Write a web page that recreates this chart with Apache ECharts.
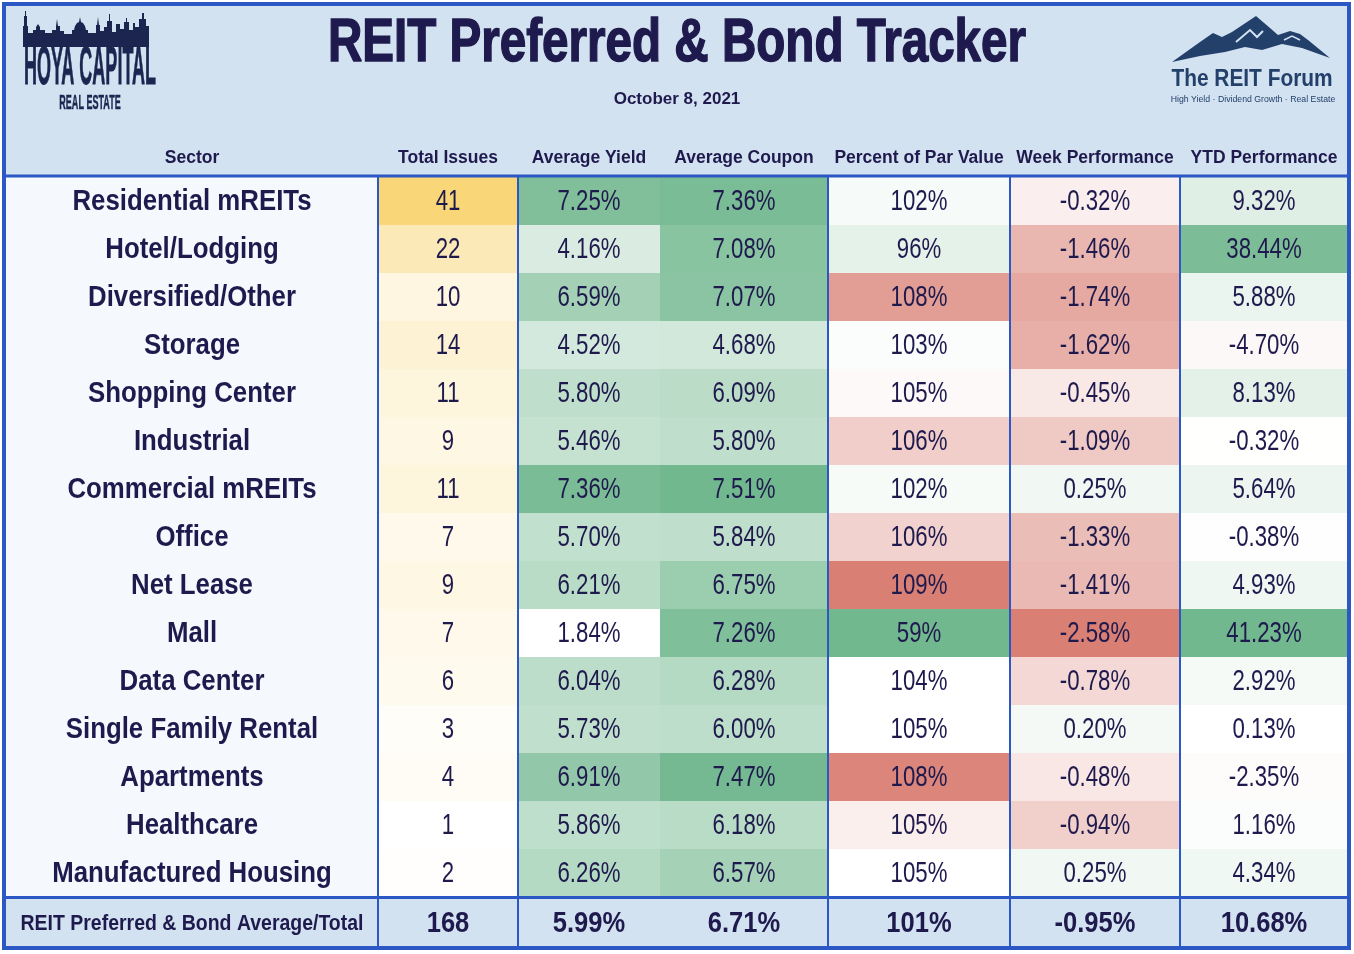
<!DOCTYPE html>
<html>
<head>
<meta charset="utf-8">
<title>REIT Preferred & Bond Tracker</title>
<script src="https://cdn.jsdelivr.net/npm/echarts@6/dist/echarts.min.js"></script>
<style>
  html, body { margin: 0; padding: 0; background: #ffffff; }
  #main { width: 1354px; height: 954px; }
</style>
</head>
<body>
<div id="main"></div>
<script>
const sectors = ['Residential mREITs', 'Hotel/Lodging', 'Diversified/Other', 'Storage', 'Shopping Center',
  'Industrial', 'Commercial mREITs', 'Office', 'Net Lease', 'Mall', 'Data Center',
  'Single Family Rental', 'Apartments', 'Healthcare', 'Manufactured Housing'];
const totalIssues = [41, 22, 10, 14, 11, 9, 11, 7, 9, 7, 6, 3, 4, 1, 2];
const avgYield = [7.25, 4.16, 6.59, 4.52, 5.80, 5.46, 7.36, 5.70, 6.21, 1.84, 6.04, 5.73, 6.91, 5.86, 6.26];
const avgCoupon = [7.36, 7.08, 7.07, 4.68, 6.09, 5.80, 7.51, 5.84, 6.75, 7.26, 6.28, 6.00, 7.47, 6.18, 6.57];
// shown rounded to whole percent; decimals estimated from the cell shading
const pctPar = [101.7, 96.2, 107.6, 103.4, 104.8, 106.1, 101.8, 106.0, 108.55, 59.4, 104.3, 104.6, 108.35, 105.1, 104.5];
const weekPerf = [-0.32, -1.46, -1.74, -1.62, -0.45, -1.09, 0.25, -1.33, -1.41, -2.58, -0.78, 0.20, -0.48, -0.94, 0.25];
const ytdPerf = [9.32, 38.44, 5.88, -4.70, 8.13, -0.32, 5.64, -0.38, 4.93, 41.23, 2.92, 0.13, -2.35, 1.16, 4.34];

const columnNames = ['Sector', 'Total Issues', 'Average Yield', 'Average Coupon',
  'Percent of Par Value', 'Week Performance', 'YTD Performance'];
const footerLabel = 'REIT Preferred & Bond Average/Total';
const footerValues = [168, 5.99, 6.71, 101, -0.95, 10.68];

// ---- colours ----
const NAVY = '#1f1a4d';
const BLUE = '#2b58c4';
const HEAD_BG = '#d3e2f1';
const SECTOR_BG = '#f5f9fd';
const WHITE = '#ffffff';
const GREEN = '#72b88f';
const RED = '#d97f74';
const YELLOW = '#f9d677';
const SANS = '"Liberation Sans", Arial, sans-serif';

function median(arr) {
  const s = arr.slice().sort((a, b) => a - b);
  const n = s.length;
  return n % 2 ? s[(n - 1) / 2] : (s[n / 2 - 1] + s[n / 2]) / 2;
}

// piecewise linear colour scale, like a spreadsheet colour scale
function colorScale(stops) {
  return function (v) {
    if (v <= stops[0][0]) return stops[0][1];
    for (let i = 1; i < stops.length; i++) {
      if (v <= stops[i][0]) {
        const t = (v - stops[i - 1][0]) / (stops[i][0] - stops[i - 1][0]);
        return echarts.color.lerp(t, [stops[i - 1][1], stops[i][1]]);
      }
    }
    return stops[stops.length - 1][1];
  };
}

const yc = avgYield.concat(avgCoupon);
const ycScale = colorScale([[Math.min(...yc), WHITE], [median(yc), echarts.color.lerp(0.5, [WHITE, GREEN])], [Math.max(...yc), GREEN]]);
const totalScale = colorScale([[Math.min(...totalIssues), WHITE], [Math.max(...totalIssues), YELLOW]]);
const parScale = colorScale([[Math.min(...pctPar), GREEN], [median(pctPar), WHITE], [Math.max(...pctPar), RED]]);
const weekExt = Math.max(...weekPerf.map(Math.abs));
const weekScale = colorScale([[-weekExt, RED], [0, WHITE], [weekExt, GREEN]]);
const ytdScale = colorScale([[Math.min(...ytdPerf), '#fcf8f7'], [0, WHITE], [Math.max(...ytdPerf), GREEN]]);

const pct2 = v => v.toFixed(2) + '%';
const VALUE_FONT = '30px ' + SANS, VALUE_SX = 0.74;
const columns = [
  { values: sectors.map((s, i) => i), color: () => SECTOR_BG, fmt: i => sectors[i], font: 'bold 29px ' + SANS, sx: 0.89 },
  { values: totalIssues, color: totalScale, fmt: v => String(v) },
  { values: avgYield, color: ycScale, fmt: pct2 },
  { values: avgCoupon, color: ycScale, fmt: pct2 },
  { values: pctPar, color: parScale, fmt: v => Math.round(v) + '%' },
  { values: weekPerf, color: weekScale, fmt: pct2 },
  { values: ytdPerf, color: ytdScale, fmt: pct2 }
];
const footerFmt = [v => footerLabel, v => String(v), pct2, pct2, v => v + '%', pct2, pct2];

// ---- layout ----
const xs = [6, 378, 518, 660, 828, 1010, 1180, 1348];
const bodyTop = 177, bodyH = 720, footTop = 898, footH = 49;

// one table cell: a band-sized rect plus horizontally condensed text
function cellRenderer(colorFn, fmt, font, sx) {
  return function (params, api) {
    const c = api.coord([api.value(0), api.value(1)]);
    const s = api.size([1, 1]);
    const v = api.value(2);
    return {
      type: 'group',
      children: [
        { type: 'rect', shape: { x: c[0] - s[0] / 2, y: c[1] - s[1] / 2, width: s[0], height: s[1] },
          style: { fill: colorFn(v) } },
        { type: 'text', x: c[0], y: c[1] + 1, scaleX: sx,
          style: { text: fmt(v), font: font, fill: NAVY, align: 'center', verticalAlign: 'middle',
            textAlign: 'center', textVerticalAlign: 'middle' } }
      ]
    };
  };
}

const grid = [], xAxis = [], yAxis = [], series = [];
columns.forEach((col, i) => {
  const left = xs[i], width = xs[i + 1] - xs[i];
  // body
  grid.push({ left: left, top: bodyTop, width: width, height: bodyH });
  xAxis.push({
    gridIndex: 2 * i, type: 'category', data: [columnNames[i]], position: 'top', z: 10,
    axisLine: { show: false }, axisTick: { show: false },
    axisLabel: { color: NAVY, fontWeight: 'bold', fontSize: 17.5, fontFamily: SANS, margin: 10 }
  });
  yAxis.push({ gridIndex: 2 * i, type: 'category', data: sectors, inverse: true, show: false });
  series.push({
    type: 'custom', xAxisIndex: 2 * i, yAxisIndex: 2 * i,
    data: col.values.map((v, r) => [0, r, v]),
    renderItem: cellRenderer(col.color, col.fmt, col.font || VALUE_FONT, col.sx || VALUE_SX),
    silent: true
  });
  // footer
  grid.push({ left: left, top: footTop, width: width, height: footH });
  xAxis.push({ gridIndex: 2 * i + 1, type: 'category', data: [''], show: false });
  yAxis.push({ gridIndex: 2 * i + 1, type: 'category', data: ['total'], show: false });
  series.push({
    type: 'custom', xAxisIndex: 2 * i + 1, yAxisIndex: 2 * i + 1,
    data: [[0, 0, i === 0 ? 0 : footerValues[i - 1]]],
    renderItem: cellRenderer(() => HEAD_BG, footerFmt[i], i === 0 ? 'bold 22px ' + SANS : 'bold 29px ' + SANS,
      i === 0 ? 0.885 : 0.88),
    silent: true
  });
});

// ---- decorations: header band, logos, rules ----
const skyline = [[23,47],[23,26],[24,26],[24,16],[25,16],[25,11],[26,11],[26,16],[27,16],[27,26],[28,26],[28,33],
  [33,33],[33,30],[36,30],[36,27],[38,24],[40,27],[40,30],[45,30],[45,33],[52,33],[52,30],[56,30],[56,26],[57,19],
  [58,26],[60,26],[60,31],[64,31],[64,34],[72,34],[72,30],[74,30],[75,26],[77,23],[79,22],[80,17],[81,22],[83,23],
  [85,26],[86,30],[88,30],[88,33],[96,33],[96,25],[97,25],[98,17],[99,25],[100,25],[100,31],[104,31],[104,27],
  [107,27],[107,21],[109,21],[109,14],[110,14],[110,21],[112,21],[112,32],[116,32],[116,24],[120,24],[120,29],
  [124,29],[124,22],[126,22],[126,18],[127,18],[127,22],[129,22],[129,30],[133,30],[133,23],[135,23],[135,27],
  [139,27],[139,19],[142,19],[142,13],[144,13],[144,19],[146,19],[146,26],[149,26],[149,47]];
const mountain = [[1172,62],[1200,42],[1213,33],[1222,37],[1232,32],[1256,16],[1270,28],[1278,35],[1290,31],
  [1300,34],[1308,40],[1330,58],[1302,48],[1282,44],[1262,50],[1245,47],[1225,52],[1200,56]];

function label(text, x, y, font, sx, color, stroke) {
  return {
    type: 'text', x: x, y: y, scaleX: sx || 1, z: 20,
    style: { text: text, font: font, fill: color || NAVY, align: 'center', verticalAlign: 'middle',
      textAlign: 'center', textVerticalAlign: 'middle',
      stroke: stroke ? (color || NAVY) : null, lineWidth: stroke || 0 }
  };
}
function rule(x1, y1, x2, y2, w) {
  return { type: 'line', z: 50, shape: { x1: x1, y1: y1, x2: x2, y2: y2 }, style: { stroke: BLUE, lineWidth: w } };
}

const graphic = [
  { type: 'rect', z: 0, shape: { x: 4, y: 4, width: 1345, height: 172 }, style: { fill: HEAD_BG } },
  { type: 'polygon', z: 20, shape: { points: skyline }, style: { fill: '#1c2550' } },
  label('HOYA CAPITAL', 90, 69, 'bold 53px ' + SANS, 0.34, '#1c2550', 0.8),
  label('REAL ESTATE', 90, 103, 'bold 21px ' + SANS, 0.43, '#1c2550', 0.5),
  { type: 'polygon', z: 20, shape: { points: mountain }, style: { fill: '#23406b' } },
  { type: 'polyline', z: 21, shape: { points: [[1236,42],[1250,30],[1257,37],[1263,31]] }, style: { stroke: HEAD_BG, lineWidth: 2, fill: null } },
  { type: 'polyline', z: 21, shape: { points: [[1284,40],[1292,36],[1300,40]] }, style: { stroke: HEAD_BG, lineWidth: 1.5, fill: null } },
  label('The REIT Forum', 1252, 79, 'bold 24px ' + SANS, 0.87, '#23406b'),
  label('High Yield \u00b7 Dividend Growth \u00b7 Real Estate', 1253, 100, '9px ' + SANS, 0.97, '#23406b'),
  label('REIT Preferred & Bond Tracker', 677, 44, 'bold 61px ' + SANS, 0.78, NAVY, 1.5),
  label('October 8, 2021', 677, 99, 'bold 17px ' + SANS, 1),
  // table rules
  { type: 'rect', z: 50, shape: { x: 4, y: 4, width: 1345, height: 944 }, style: { fill: null, stroke: BLUE, lineWidth: 4 } },
  rule(4, 176, 1349, 176, 3),
  rule(4, 897.5, 1349, 897.5, 3),
  rule(xs[1], 176, xs[1], 948, 2),
  rule(xs[2], 176, xs[2], 948, 2),
  rule(xs[4], 176, xs[4], 948, 2),
  rule(xs[5], 176, xs[5], 948, 2),
  rule(xs[6], 176, xs[6], 948, 2)
];

const chart = echarts.init(document.getElementById('main'));
chart.setOption({
  backgroundColor: WHITE,
  animation: false,
  grid: grid,
  xAxis: xAxis,
  yAxis: yAxis,
  series: series,
  graphic: graphic
});
</script>
</body>
</html>
